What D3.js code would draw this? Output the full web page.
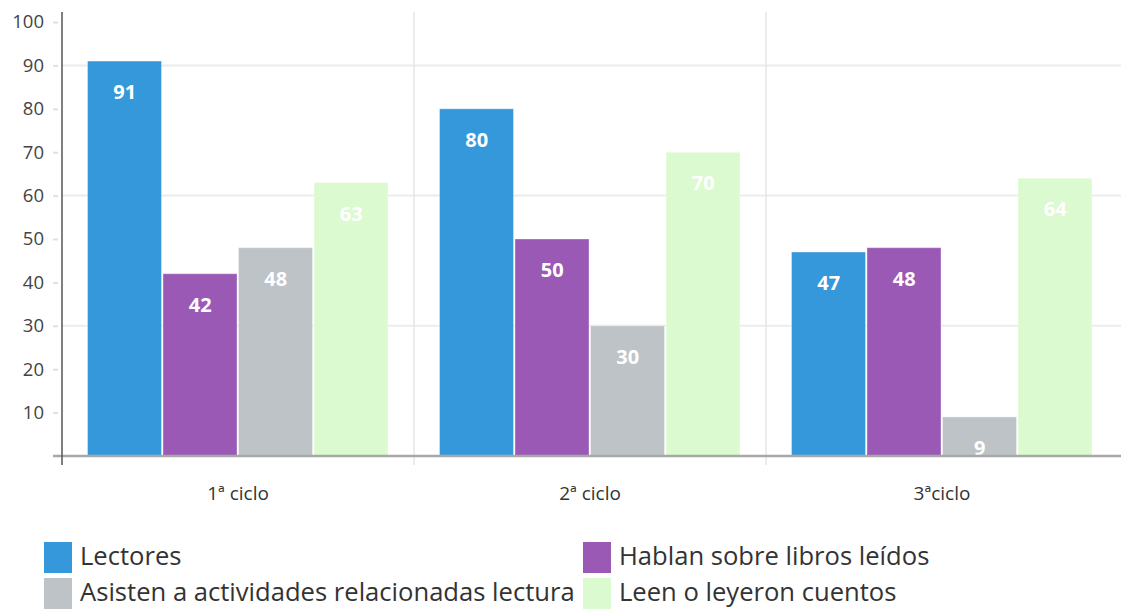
<!DOCTYPE html>
<html>
<head>
<meta charset="utf-8">
<script src="https://cdn.jsdelivr.net/npm/d3@7"></script>
<style>
  html, body { margin: 0; padding: 0; background: #fff; }
  svg { display: block; font-family: "Open Sans", sans-serif; }
</style>
</head>
<body>
<svg id="chart" width="1121" height="609"></svg>
<script>
const categories = ["1ª ciclo", "2ª ciclo", "3ªciclo"];
const seriesNames = ["Lectores", "Hablan sobre libros leídos", "Asisten a actividades relacionadas lectura", "Leen o leyeron cuentos"];
const lectores = [91, 80, 47];
const hablan = [42, 50, 48];
const asisten = [48, 30, 9];
const leen = [63, 70, 64];
const yTicks = [10, 20, 30, 40, 50, 60, 70, 80, 90, 100];
const gridTicks = [30, 60, 90];
const colors = ["#3498db", "#9b59b6", "#bdc3c7", "#dcfad0"];

const seriesValues = [lectores, hablan, asisten, leen];
const data = categories.map((c, i) => ({
  cat: c,
  vals: seriesNames.map((s, j) => ({ key: s, idx: j, value: seriesValues[j][i] }))
}));

const svg = d3.select("#chart");
const x0 = d3.scaleBand().domain(categories).range([62, 1118]).padding(0);
const x1 = d3.scaleBand().domain(seriesNames).range([25, x0.bandwidth() - 25]).padding(0);
const y = d3.scaleLinear().domain([0, 100]).range([456, 22]);

// horizontal grid lines
svg.append("g").selectAll("line").data(gridTicks).join("line")
  .attr("x1", 62).attr("x2", 1121)
  .attr("y1", d => y(d)).attr("y2", d => y(d))
  .attr("stroke", "#ececec").attr("stroke-width", 2);

// vertical separators
svg.append("g").selectAll("line").data(categories.slice(1)).join("line")
  .attr("x1", d => x0(d)).attr("x2", d => x0(d))
  .attr("y1", 12).attr("y2", 465)
  .attr("stroke", "#e6e6e6").attr("stroke-width", 1.5);

// bars
const groups = svg.append("g").selectAll("g").data(data).join("g")
  .attr("transform", d => `translate(${x0(d.cat)},0)`);

groups.selectAll("rect").data(d => d.vals).join("rect")
  .attr("x", d => x1(d.key) + 0.5)
  .attr("width", x1.bandwidth() - 1.5)
  .attr("y", d => y(d.value))
  .attr("height", d => y(0) - y(d.value))
  .attr("fill", d => colors[d.idx])
  .attr("stroke", "rgba(255,255,255,0.35)")
  .attr("stroke-width", 1);

groups.selectAll("text").data(d => d.vals).join("text")
  .attr("x", d => x1(d.key) + x1.bandwidth() / 2)
  .attr("y", d => y(d.value) + 38)
  .attr("text-anchor", "middle")
  .attr("fill", "#fff")
  .attr("font-weight", "bold")
  .attr("font-size", 20)
  .text(d => d.value);

// baseline
svg.append("line")
  .attr("x1", 53).attr("x2", 1121)
  .attr("y1", y(0)).attr("y2", y(0))
  .attr("stroke", "#a8a8a8").attr("stroke-width", 2.5);

// y axis
const yAxis = d3.axisLeft(y).tickValues(yTicks).tickSize(5).tickPadding(9);
const gy = svg.append("g").attr("transform", "translate(58,0)").call(yAxis);
gy.select(".domain").remove();
gy.selectAll(".tick line").attr("stroke", "#e0e0e0").attr("stroke-width", 2);
gy.selectAll(".tick text").attr("font-size", 18.5).attr("fill", "#444")
  .attr("font-family", "'Open Sans', sans-serif");

svg.append("line")
  .attr("x1", 62).attr("x2", 62).attr("y1", 12).attr("y2", 465)
  .attr("stroke", "#555").attr("stroke-width", 1.5);

// x category labels
const xAxis = d3.axisBottom(x0).tickSize(0).tickPadding(0);
const gx = svg.append("g").attr("transform", "translate(0,486)").call(xAxis);
gx.select(".domain").remove();
gx.selectAll(".tick text").attr("font-size", 19).attr("fill", "#333")
  .attr("font-family", "'Open Sans', sans-serif");

// legend
const legendPos = [[44, 542], [583, 542], [44, 578], [583, 578]];
const legendOrder = [0, 1, 2, 3];
const lg = svg.append("g").selectAll("g").data(legendOrder).join("g")
  .attr("transform", i => `translate(${legendPos[i][0]},${legendPos[i][1]})`);
lg.append("rect").attr("width", 28).attr("height", 31)
  .attr("fill", i => colors[i]);
lg.append("text").attr("x", 36).attr("y", 23)
  .attr("font-size", 25.6).attr("fill", "#333")
  .text(i => seriesNames[i]);
</script>
</body>
</html>
